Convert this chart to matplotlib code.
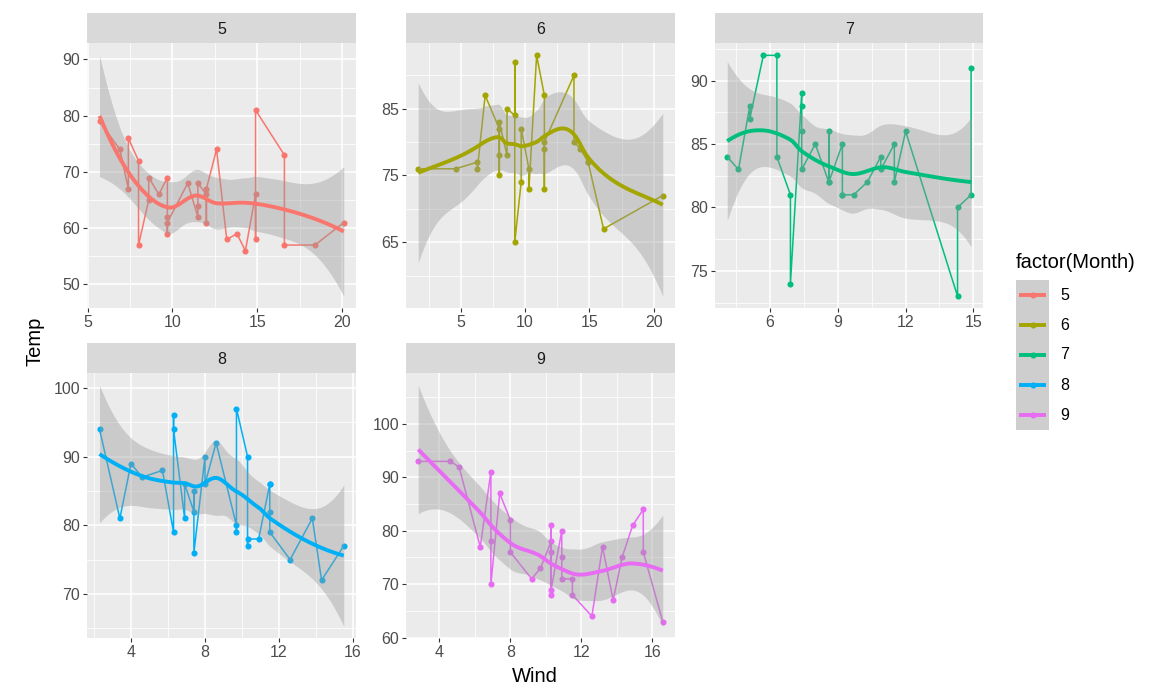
"""Temp vs Wind by month (airquality), faceted, with loess smooth + 95% band."""
import numpy as np
import matplotlib
matplotlib.use("Agg")
import matplotlib.pyplot as plt
from matplotlib.ticker import FixedLocator

plt.rcParams["font.family"] = ["Liberation Sans", "DejaVu Sans"]

months = ["5", "6", "7", "8", "9"]
colors = ["#F8766D", "#A3A500", "#00BF7D", "#00B0F6", "#E76BF3"]

wind5 = [7.4, 8.0, 12.6, 11.5, 14.3, 14.9, 8.6, 13.8, 20.1, 8.6, 6.9, 9.7, 9.2, 10.9, 13.2, 11.5,
         12.0, 18.4, 11.5, 9.7, 9.7, 16.6, 9.7, 12.0, 16.6, 14.9, 8.0, 12.0, 14.9, 5.7, 7.4]
temp5 = [67, 72, 74, 62, 56, 66, 65, 59, 61, 69, 74, 69, 66, 68, 58, 64,
         66, 57, 68, 62, 59, 73, 61, 61, 57, 58, 57, 67, 81, 79, 76]

wind6 = [8.6, 9.7, 16.1, 9.2, 8.6, 14.3, 9.7, 6.9, 13.8, 11.5, 10.9, 9.2, 8.0, 13.8, 11.5,
         14.9, 20.7, 9.2, 11.5, 10.3, 6.3, 1.7, 4.6, 6.3, 8.0, 8.0, 10.3, 11.5, 14.9, 8.0]
temp6 = [78, 74, 67, 84, 85, 79, 82, 87, 90, 87, 93, 92, 82, 80, 79,
         77, 72, 65, 73, 76, 77, 76, 76, 76, 75, 78, 73, 80, 77, 83]

wind7 = [4.1, 9.2, 9.2, 10.9, 4.6, 10.9, 5.1, 6.3, 5.7, 7.4, 8.6, 14.3, 14.9, 14.9, 14.3, 6.9,
         10.3, 6.3, 5.1, 11.5, 6.9, 9.7, 11.5, 8.6, 8.0, 8.6, 12.0, 7.4, 7.4, 7.4, 9.2]
temp7 = [84, 85, 81, 84, 83, 83, 88, 92, 92, 89, 82, 73, 81, 91, 80, 81,
         82, 84, 87, 85, 74, 81, 82, 86, 85, 82, 86, 88, 86, 83, 81]

wind8 = [6.9, 13.8, 7.4, 6.9, 7.4, 4.6, 4.0, 10.3, 8.0, 8.6, 11.5, 11.5, 11.5, 9.7, 11.5, 10.3,
         6.3, 7.4, 10.9, 10.3, 15.5, 14.3, 12.6, 9.7, 3.4, 8.0, 5.7, 9.7, 2.3, 6.3, 6.3]
temp8 = [81, 81, 82, 86, 85, 87, 89, 90, 90, 92, 86, 86, 82, 80, 79, 77,
         79, 76, 78, 78, 77, 72, 75, 79, 81, 86, 88, 97, 94, 96, 94]

wind9 = [6.9, 5.1, 2.8, 4.6, 7.4, 15.5, 10.9, 10.3, 10.9, 9.7, 14.9, 15.5, 6.3, 10.9, 11.5,
         6.9, 13.8, 10.3, 10.3, 8.0, 12.6, 9.2, 10.3, 10.3, 16.6, 6.9, 13.2, 14.3, 8.0, 11.5]
temp9 = [91, 92, 93, 93, 87, 84, 80, 78, 75, 73, 81, 76, 77, 71, 71,
         78, 67, 76, 68, 82, 64, 71, 81, 69, 63, 70, 77, 75, 76, 68]

winds = [wind5, wind6, wind7, wind8, wind9]
temps = [temp5, temp6, temp7, temp8, temp9]

x_breaks = [[5, 10, 15, 20], [5, 10, 15, 20], [6, 9, 12, 15], [4, 8, 12, 16], [4, 8, 12, 16]]
y_breaks = [[50, 60, 70, 80, 90], [65, 75, 85], [75, 80, 85, 90], [70, 80, 90, 100],
            [60, 70, 80, 90, 100]]


# --- loess (degree 2, span .75) with kd-tree vertex + cubic Hermite interpolation, like R ---
def local_rows(x, x0, q):
    d = np.abs(x - x0)
    h = np.sort(d)[q - 1]
    u = d / h
    w = np.where(u < 1, (1 - u ** 3) ** 3, 0.0)
    X = np.column_stack([np.ones(len(x)), x - x0, (x - x0) ** 2])
    B = np.linalg.solve(X.T @ (w[:, None] * X), X.T * w)
    return B[0], B[1]


def kd_vertices(x, span, cell=0.2):
    xs = np.sort(x)
    n = len(xs)
    fc = int(np.floor(n * span * cell))
    mu = 0.005 * (xs[-1] - xs[0])
    verts = {xs[0] - mu, xs[-1] + mu}

    def split(l, u, vlo, vhi):
        if u - l + 1 <= fc:
            return
        m = (l + u) // 2
        off = 0
        while l <= m + off < u:
            if xs[m + off] == xs[m + off + 1]:
                off = -off
                if off >= 0:
                    off += 1
            else:
                m = m + off
                break
        if xs[m] == vlo or xs[m] == vhi:
            return
        t = xs[m]
        verts.add(t)
        split(l, m, vlo, t)
        split(m + 1, u, t, vhi)

    split(0, n - 1, xs[0] - mu, xs[-1] + mu)
    return np.array(sorted(verts))


def loess_operator(x, xout, span=0.75):
    q = int(np.floor(len(x) * span))
    verts = kd_vertices(x, span)
    rows = [local_rows(x, v, q) for v in verts]
    L = np.zeros((len(xout), len(x)))
    for k, xo in enumerate(xout):
        j = int(np.clip(np.searchsorted(verts, xo, side="right") - 1, 0, len(verts) - 2))
        a, b = verts[j], verts[j + 1]
        h = (xo - a) / (b - a)
        phi0 = (1 - h) ** 2 * (1 + 2 * h)
        phi1 = h ** 2 * (3 - 2 * h)
        psi0 = h * (1 - h) ** 2
        psi1 = -h ** 2 * (1 - h)
        L[k] = (phi0 * rows[j][0] + phi1 * rows[j + 1][0]
                + (psi0 * rows[j][1] + psi1 * rows[j + 1][1]) * (b - a))
    return L


def t975(df):
    z = 1.959964
    g1 = (z ** 3 + z) / 4
    g2 = (5 * z ** 5 + 16 * z ** 3 + 3 * z) / 96
    g3 = (3 * z ** 7 + 19 * z ** 5 + 17 * z ** 3 - 15 * z) / 384
    return z + g1 / df + g2 / df ** 2 + g3 / df ** 3


def smooth(x, y):
    n = len(x)
    Lf = loess_operator(x, x)
    res = y - Lf @ y
    M = np.eye(n) - Lf
    MM = M.T @ M
    d1 = np.trace(MM)
    d2 = np.trace(MM @ MM)
    s = np.sqrt(np.sum(res ** 2) / d1)
    xs = np.linspace(x.min(), x.max(), 80)
    Ls = loess_operator(x, xs)
    fit = Ls @ y
    se = s * np.sqrt(np.sum(Ls ** 2, axis=1))
    t = t975(d1 ** 2 / d2)
    return xs, fit, fit - t * se, fit + t * se


W, H = 1150, 697
fig = plt.figure(figsize=(W / 100, H / 100), dpi=100)

cols = [(87.3, 356.0), (406.0, 675.0), (715.0, 983.3)]
rows_px = [(13.3, 43.3, 308.3), (343.3, 373.3, 638.3)]


def frac(x0, x1, y0, y1):
    return [x0 / W, 1 - y1 / H, (x1 - x0) / W, (y1 - y0) / H]


def minor_of(b):
    step = b[1] - b[0]
    return [b[0] - step / 2] + [(p + r) / 2 for p, r in zip(b[:-1], b[1:])] + [b[-1] + step / 2]


for i, m in enumerate(months):
    r, c = divmod(i, 3)
    x0, x1 = cols[c]
    st, pt, pb = rows_px[r]
    ax = fig.add_axes(frac(x0, x1, pt, pb))
    sax = fig.add_axes(frac(x0, x1, st, pt))
    sax.set_facecolor("#D9D9D9")
    sax.set_xticks([])
    sax.set_yticks([])
    for sp in sax.spines.values():
        sp.set_visible(False)
    sax.text(0.5, 0.47, m, ha="center", va="center", fontsize=11.5, color="#1A1A1A",
             transform=sax.transAxes)

    x = np.asarray(winds[i], float)
    y = np.asarray(temps[i], float)
    order = np.argsort(x, kind="stable")
    xs, fit, lo, hi = smooth(x, y)

    ax.set_facecolor("#EBEBEB")
    for sp in ax.spines.values():
        sp.set_visible(False)

    ax.plot(x, y, "o", color=colors[i], ms=4.4, mew=0, zorder=3)
    ax.plot(x[order], y[order], color=colors[i], lw=1.1, zorder=3)
    ax.fill_between(xs, lo, hi, color="#999999", alpha=0.4, lw=0, zorder=4)
    ax.plot(xs, fit, color=colors[i], lw=2.8, zorder=5, solid_capstyle="butt")

    xr = x.max() - x.min()
    ax.set_xlim(x.min() - 0.05 * xr, x.max() + 0.05 * xr)
    ymin = min(y.min(), lo.min())
    ymax = max(y.max(), hi.max())
    yr = ymax - ymin
    ax.set_ylim(ymin - 0.05 * yr, ymax + 0.05 * yr)

    ax.xaxis.set_major_locator(FixedLocator(x_breaks[i]))
    ax.yaxis.set_major_locator(FixedLocator(y_breaks[i]))
    ax.xaxis.set_minor_locator(FixedLocator(minor_of(x_breaks[i])))
    ax.yaxis.set_minor_locator(FixedLocator(minor_of(y_breaks[i])))
    ax.grid(which="major", color="white", lw=1.1, zorder=0)
    ax.grid(which="minor", color="white", lw=0.55, zorder=0)
    ax.set_axisbelow(True)
    ax.tick_params(which="major", length=3.0, width=0.8, color="#333333",
                   labelsize=11.5, labelcolor="#4D4D4D", pad=2.0)
    ax.tick_params(which="minor", length=0)

fig.text(535 / W, 1 - 677 / H, "Wind", ha="center", va="center", fontsize=14.5, color="black")
fig.text(35 / W, 1 - 341 / H, "Temp", ha="center", va="center", rotation=90,
         fontsize=14.5, color="black")

# legend
fig.text(1016 / W, 1 - 263 / H, "factor(Month)", ha="left", va="center", fontsize=14.5,
         color="black")
lax = fig.add_axes(frac(1016, 1049, 280, 430))
lax.set_facecolor("#CECECE")
lax.set_xlim(0, 1)
lax.set_ylim(5, 0)
for sp in lax.spines.values():
    sp.set_visible(False)
lax.set_xticks([])
lax.set_yticks([])
for i, m in enumerate(months):
    yc = i + 0.5
    lax.plot([0.1, 0.9], [yc, yc], color=colors[i], lw=2.8, solid_capstyle="butt")
    lax.plot([0.5], [yc], "o", color=colors[i], ms=4.4, mew=0)
    fig.text(1060 / W, 1 - (280 + 30 * yc) / H, m, ha="left", va="center",
             fontsize=11.5, color="black")

fig.savefig("out.png", dpi=100)
